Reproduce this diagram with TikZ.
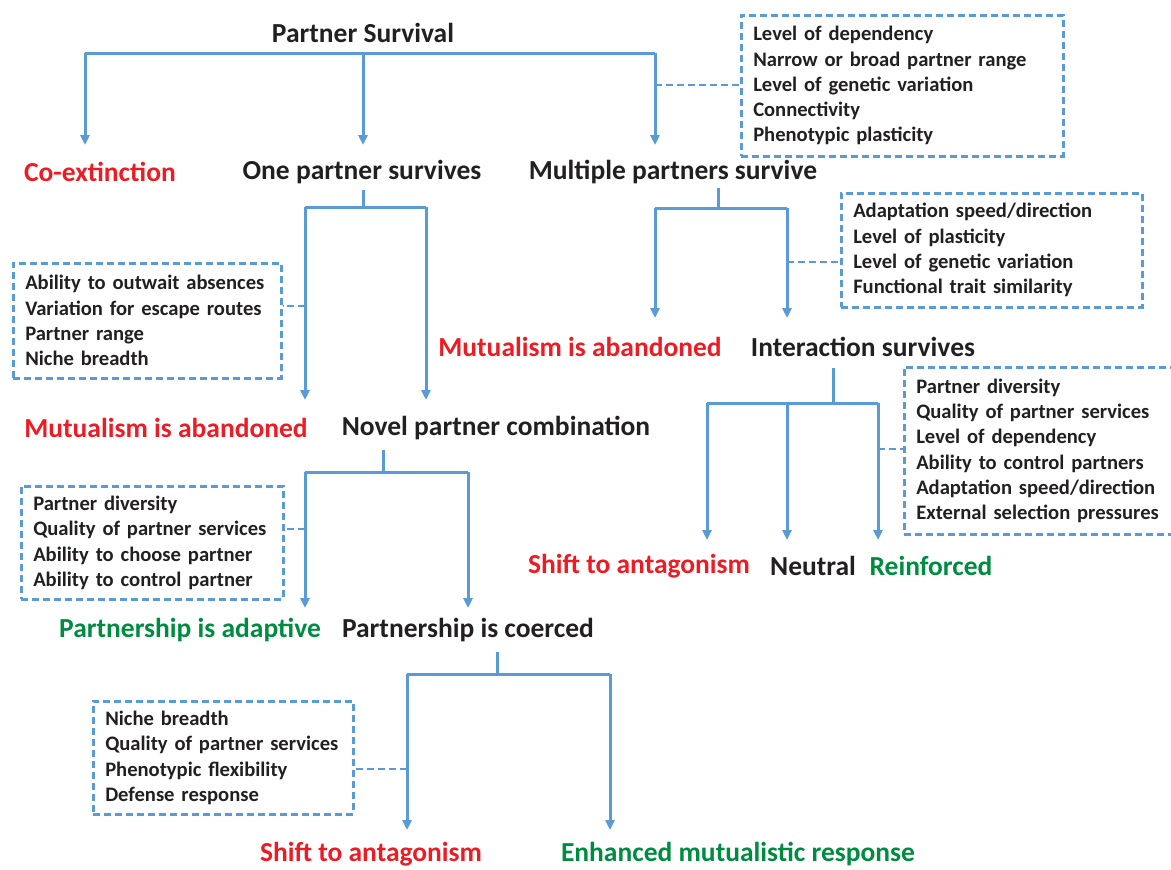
\documentclass[tikz,border=0pt]{standalone}
\usepackage{fontspec}
\setmainfont{Carlito}
\usetikzlibrary{arrows.meta}
\definecolor{lineblue}{RGB}{91,155,213}
\definecolor{outred}{RGB}{237,28,36}
\definecolor{outgreen}{RGB}{0,140,64}
\definecolor{txt}{RGB}{35,31,32}
\begin{document}
\begin{tikzpicture}[x=1pt,y=-1pt,
  lbl/.style={font=\fontsize{27.5}{30}\selectfont\bfseries, text=txt, inner sep=0pt, anchor=center},
  bad/.style={lbl, text=outred},
  good/.style={lbl, text=outgreen},
  conn/.style={draw=lineblue, line width=3pt},
  arr/.style={conn, -{Triangle[width=9pt,length=10pt]}},
  link/.style={draw=lineblue, line width=2.5pt, dash pattern=on 7pt off 4pt},
  fbox/.style={draw=lineblue, line width=2.5pt, dash pattern=on 7pt off 4pt, anchor=north west,
    inner xsep=12pt, inner ysep=0pt, align=left, text=txt,
    font=\fontsize{20.6}{25.3}\selectfont\bfseries}]
\useasboundingbox (0,0) rectangle (1171,870);

% labels
\node[lbl] (ps) at (363,33) {Partner Survival};
\node[bad] (coext) at (100,172) {Co-extinction};
\node[lbl] (one) at (362,172) {One partner survives};
\node[lbl] (multi) at (673,172) {Multiple partners survive};
\node[bad] (mab1) at (166,428) {Mutualism is abandoned};
\node[lbl] (novel) at (496,428) {Novel partner combination};
\node[bad] (mab2) at (580,347) {Mutualism is abandoned};
\node[lbl] (inter) at (863,347) {Interaction survives};
\node[bad] (shift1) at (639,566) {Shift to antagonism};
\node[lbl] (neutral) at (813,566) {Neutral};
\node[good] (reinf) at (931,566) {Reinforced};
\node[good] (adapt) at (190,630) {Partnership is adaptive};
\node[lbl] (coerced) at (468,630) {Partnership is coerced};
\node[bad] (shift2) at (371,854) {Shift to antagonism};
\node[good] (enh) at (738,854) {Enhanced mutualistic response};

% factor boxes
\node[fbox, text width=298pt, minimum height=141pt] (box1) at (740,14)
  {Level of dependency\\Narrow or broad partner range\\Level of genetic variation\\Connectivity\\Phenotypic plasticity};
\node[fbox, text width=244pt, minimum height=115pt] (box2) at (12,262)
  {Ability to outwait absences\\Variation for escape routes\\Partner range\\Niche breadth};
\node[fbox, text width=277pt, minimum height=114pt] (box3) at (840,192)
  {Adaptation speed/direction\\Level of plasticity\\Level of genetic variation\\Functional trait similarity};
\node[fbox, text width=260pt, minimum height=167pt] (box4) at (903,366)
  {Partner diversity\\Quality of partner services\\Level of dependency\\Ability to control partners\\Adaptation speed/direction\\External selection pressures};
\node[fbox, text width=238pt, minimum height=113pt] (box5) at (20,485)
  {Partner diversity\\Quality of partner services\\Ability to choose partner\\Ability to control partner};
\node[fbox, text width=236pt, minimum height=113pt] (box6) at (92,700)
  {Niche breadth\\Quality of partner services\\Phenotypic flexibility\\Defense response};

% tree 1
\coordinate (b1l) at (85,53); \coordinate (b1m) at (363,53); \coordinate (b1r) at (655,53);
\coordinate (e1a) at (85,145); \coordinate (e1b) at (363,145); \coordinate (e1c) at (655,145);
\draw[conn] (b1l) -- (b1r);
\draw[arr] (b1l) -- (e1a);
\draw[arr] (b1m) -- (e1b);
\draw[arr] (b1r) -- (e1c);
\coordinate (d1) at (655,85);
\draw[link] (d1) -- (d1 -| box1.west);

% tree 2
\coordinate (s2) at (363,190); \coordinate (b2m) at (363,207);
\coordinate (b2l) at (305,207); \coordinate (b2r) at (426,207);
\coordinate (e2a) at (305,400); \coordinate (e2b) at (426,400);
\draw[conn] (s2) -- (b2m);
\draw[conn] (b2l) -- (b2r);
\draw[arr] (b2l) -- (e2a);
\draw[arr] (b2r) -- (e2b);
\coordinate (d2) at (305,306);
\draw[link] (d2) -- (d2 -| box2.east);

% tree 3
\coordinate (s3) at (718,188); \coordinate (b3m) at (718,208);
\coordinate (b3l) at (655,208); \coordinate (b3r) at (787,208);
\coordinate (e3a) at (655,318); \coordinate (e3b) at (787,318);
\draw[conn] (s3) -- (b3m);
\draw[conn] (b3l) -- (b3r);
\draw[arr] (b3l) -- (e3a);
\draw[arr] (b3r) -- (e3b);
\coordinate (d3) at (787,262);
\draw[link] (d3) -- (d3 -| box3.west);

% tree 4
\coordinate (s4) at (833,368); \coordinate (b4m) at (833,403);
\coordinate (b4l) at (707,403); \coordinate (b4c) at (787,403); \coordinate (b4r) at (878,403);
\coordinate (e4a) at (707,540); \coordinate (e4b) at (787,540); \coordinate (e4c) at (878,540);
\draw[conn] (s4) -- (b4m);
\draw[conn] (b4l) -- (b4r);
\draw[arr] (b4l) -- (e4a);
\draw[arr] (b4c) -- (e4b);
\draw[arr] (b4r) -- (e4c);
\coordinate (d4) at (878,449);
\draw[link] (d4) -- (d4 -| box4.west);

% tree 5
\coordinate (s5) at (383,450); \coordinate (b5m) at (383,472);
\coordinate (b5l) at (305,472); \coordinate (b5r) at (468,472);
\coordinate (e5a) at (305,608); \coordinate (e5b) at (468,608);
\draw[conn] (s5) -- (b5m);
\draw[conn] (b5l) -- (b5r);
\draw[arr] (b5l) -- (e5a);
\draw[arr] (b5r) -- (e5b);
\coordinate (d5) at (305,529);
\draw[link] (d5) -- (d5 -| box5.east);

% tree 6
\coordinate (s6) at (497,652); \coordinate (b6m) at (497,674);
\coordinate (b6l) at (407,674); \coordinate (b6r) at (610,674);
\coordinate (e6a) at (407,830); \coordinate (e6b) at (610,830);
\draw[conn] (s6) -- (b6m);
\draw[conn] (b6l) -- (b6r);
\draw[arr] (b6l) -- (e6a);
\draw[arr] (b6r) -- (e6b);
\coordinate (d6) at (407,769);
\draw[link] (d6) -- (d6 -| box6.east);
\end{tikzpicture}
\end{document}
